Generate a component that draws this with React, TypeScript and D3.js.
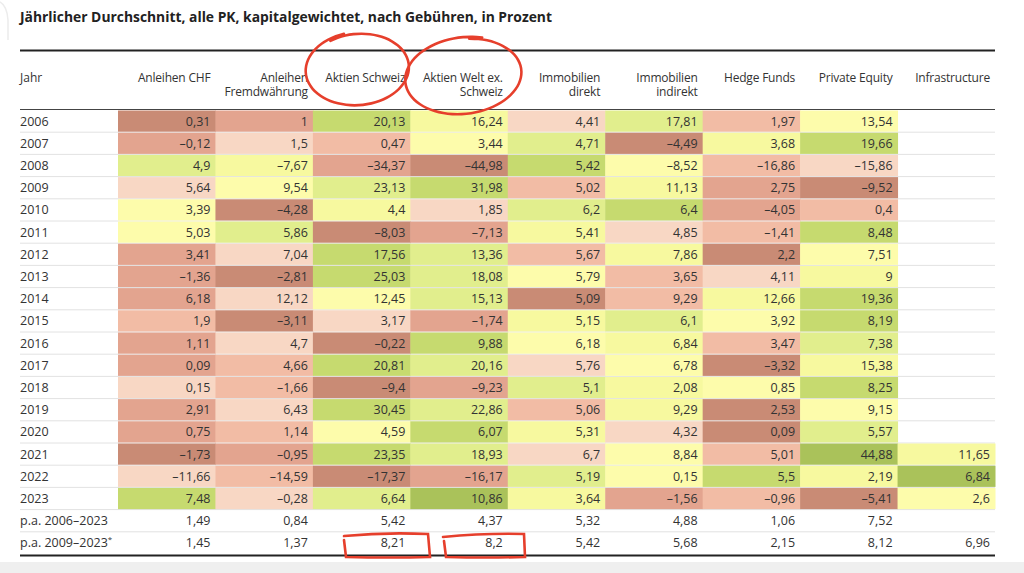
import React from "react";
import * as d3 from "d3";

const title = "Jährlicher Durchschnitt, alle PK, kapitalgewichtet, nach Gebühren, in Prozent";
const yearHeader = "Jahr";
const columns = [
  ["Anleihen CHF"],
  ["Anleihen", "Fremdwährung"],
  ["Aktien Schweiz"],
  ["Aktien Welt ex.", "Schweiz"],
  ["Immobilien", "direkt"],
  ["Immobilien", "indirekt"],
  ["Hedge Funds"],
  ["Private Equity"],
  ["Infrastructure"],
];
const years = [2006, 2007, 2008, 2009, 2010, 2011, 2012, 2013, 2014, 2015, 2016, 2017, 2018, 2019, 2020, 2021, 2022, 2023];

const anleihenCHF = [0.31, -0.12, 4.9, 5.64, 3.39, 5.03, 3.41, -1.36, 6.18, 1.9, 1.11, 0.09, 0.15, 2.91, 0.75, -1.73, -11.66, 7.48];
const anleihenFW = [1, 1.5, -7.67, 9.54, -4.28, 5.86, 7.04, -2.81, 12.12, -3.11, 4.7, 4.66, -1.66, 6.43, 1.14, -0.95, -14.59, -0.28];
const aktienCH = [20.13, 0.47, -34.37, 23.13, 4.4, -8.03, 17.56, 25.03, 12.45, 3.17, -0.22, 20.81, -9.4, 30.45, 4.59, 23.35, -17.37, 6.64];
const aktienWelt = [16.24, 3.44, -44.98, 31.98, 1.85, -7.13, 13.36, 18.08, 15.13, -1.74, 9.88, 20.16, -9.23, 22.86, 6.07, 18.93, -16.17, 10.86];
const immoDirekt = [4.41, 4.71, 5.42, 5.02, 6.2, 5.41, 5.67, 5.79, 5.09, 5.15, 6.18, 5.76, 5.1, 5.06, 5.31, 6.7, 5.19, 3.64];
const immoIndirekt = [17.81, -4.49, -8.52, 11.13, 6.4, 4.85, 7.86, 3.65, 9.29, 6.1, 6.84, 6.78, 2.08, 9.29, 4.32, 8.84, 0.15, -1.56];
const hedgeFunds = [1.97, 3.68, -16.86, 2.75, -4.05, -1.41, 2.2, 4.11, 12.66, 3.92, 3.47, -3.32, 0.85, 2.53, 0.09, 5.01, 5.5, -0.96];
const privateEquity = [13.54, 19.66, -15.86, -9.52, 0.4, 8.48, 7.51, 9, 19.36, 8.19, 7.38, 15.38, 8.25, 9.15, 5.57, 44.88, 2.19, -5.41];
const infrastructure = [null, null, null, null, null, null, null, null, null, null, null, null, null, null, null, 11.65, 6.84, 2.6];

const pa2006Label = "p.a. 2006–2023";
const pa2006 = [1.49, 0.84, 5.42, 4.37, 5.32, 4.88, 1.06, 7.52, null];
const pa2009Label = "p.a. 2009–2023";
const pa2009 = [1.45, 1.37, 8.21, 8.2, 5.42, 5.68, 2.15, 8.12, 6.96];

const series = [anleihenCHF, anleihenFW, aktienCH, aktienWelt, immoDirekt, immoIndirekt, hedgeFunds, privateEquity, infrastructure];

// rank colours: lowest in row -> darkest red, highest -> green
const palette = ["#c98b75", "#e3a48f", "#f2bca5", "#f8d7c4", "#fdfcab", "#f7f99f", "#e1ee8d", "#c6da6f", "#aac25a"];

const fmt = (v: number | null) => (v == null ? "" : String(v).replace(".", ",").replace("-", "–"));

const W = 1024;
const H = 573;
const FONT = "'Open Sans', 'Noto Sans', sans-serif";
const TXT = "#333";

export default function App() {
  const rowKeys = [...years.map(String), "pa2006", "pa2009"];
  const x = d3.scaleBand<number>().domain(d3.range(columns.length)).range([118, 995]);
  const y = d3.scaleBand<string>().domain(rowKeys).range([110, 554]);
  const rh = y.bandwidth();

  const yearRows = years.map((yr, i) => {
    const vals = series.map((s) => s[i]);
    const present = vals.filter((v) => v != null) as number[];
    const sorted = [...present].sort((a, b) => a - b);
    const color = d3.scaleOrdinal<number, string>().domain(sorted).range(palette.slice(0, sorted.length));
    return { key: String(yr), label: String(yr), vals, colorOf: (v: number | null) => (v == null ? "none" : color(v)) };
  });

  const allRows = [
    ...yearRows,
    { key: "pa2006", label: pa2006Label, vals: pa2006, colorOf: () => "none", star: false },
    { key: "pa2009", label: pa2009Label, vals: pa2009, colorOf: () => "none", star: true },
  ];

  const red = "#e63f2c";
  const line = d3.line<[number, number]>().curve(d3.curveCatmullRom);

  const ellipse = (cx: number, cy: number, rx: number, ry: number, rot: number, start: number, sweep: number, drift: number) => {
    const pts: [number, number][] = d3.range(0, 41).map((k) => {
      const t = start + (k / 40) * sweep;
      const r = 1 + drift * (k / 40);
      const ex = Math.cos(t) * rx * r;
      const ey = Math.sin(t) * ry * r;
      const c = Math.cos(rot), s = Math.sin(rot);
      return [cx + ex * c - ey * s, cy + ex * s + ey * c];
    });
    return line(pts) || "";
  };

  return (
    <svg width={W} height={H} style={{ position: "fixed", left: 0, top: 0, background: "#fff" }} fontFamily={FONT}>
      <rect x={0} y={0} width={W} height={H} fill="#fff" />
      <rect x={0} y={562} width={W} height={11} fill="#efefef" />
      <path d="M0,2 Q7,6 8,20 L8,40" fill="none" stroke="#ececec" strokeWidth={1.5} />

      <text x={20} y={22} fontSize={14} fontWeight={700} fill="#222" textLength={532} lengthAdjust="spacingAndGlyphs">
        {title}
      </text>

      <line x1={20} x2={995} y1={50.5} y2={50.5} stroke="#222" strokeWidth={2} />

      <text x={20} y={81.5} fontSize={12} fill={TXT}>{yearHeader}</text>
      {columns.map((lines, j) =>
        lines.map((l, k) => (
          <text key={j + "-" + k} x={(x(j) as number) + x.bandwidth() - 5} y={81.5 + k * 14} fontSize={12} letterSpacing={-0.2} fill={TXT} textAnchor="end">
            {l}
          </text>
        ))
      )}

      {/* row separators */}
      {rowKeys.slice(1).map((k) => (
        <line key={k} x1={20} x2={995} y1={y(k) as number} y2={y(k) as number} stroke="#e2e2e2" strokeWidth={1} />
      ))}

      {allRows.map((r) => (
        <g key={r.key}>
          {r.vals.map((v, j) =>
            v == null || r.colorOf(v) === "none" ? null : (
              <rect key={j} x={x(j) as number} y={(y(r.key) as number) + 0.5} width={x.bandwidth() + 0.5} height={rh - 1} fill={r.colorOf(v)} />
            )
          )}
        </g>
      ))}

      {allRows.map((r) => {
        const cy = (y(r.key) as number) + rh / 2 + 4.5;
        return (
          <g key={r.key + "t"}>
            <text x={20} y={cy} fontSize={12.5} fill={TXT}>
              {r.label}
              {(r as any).star ? <tspan fontSize={8} dy={-5}>*</tspan> : null}
            </text>
            {r.vals.map((v, j) => (
              <text key={j} x={(x(j) as number) + x.bandwidth() - 5} y={cy} fontSize={12.5} fill={TXT} textAnchor="end">
                {fmt(v)}
              </text>
            ))}
          </g>
        );
      })}

      <line x1={20} x2={995} y1={109.5} y2={109.5} stroke="#444" strokeWidth={1} />
      <line x1={20} x2={995} y1={555.5} y2={555.5} stroke="#222" strokeWidth={2} />

      {/* hand-drawn annotations */}
      <g fill="none" stroke={red} strokeWidth={2.6} strokeLinecap="round">
        <path d={ellipse(358, 69, 50, 35, -0.08, -2.1, 6.6, 0.06)} />
        <path d={ellipse(464, 76, 57, 37, -0.12, -1.4, 6.5, 0.05)} />
        <path d="M344,536 Q385,532 428,534 L430,557 Q390,558 346,557 L344,540" />
        <path d="M443,537 Q485,533 524,534 L525,557 Q488,558 446,557 L444,541" />
      </g>
    </svg>
  );
}
